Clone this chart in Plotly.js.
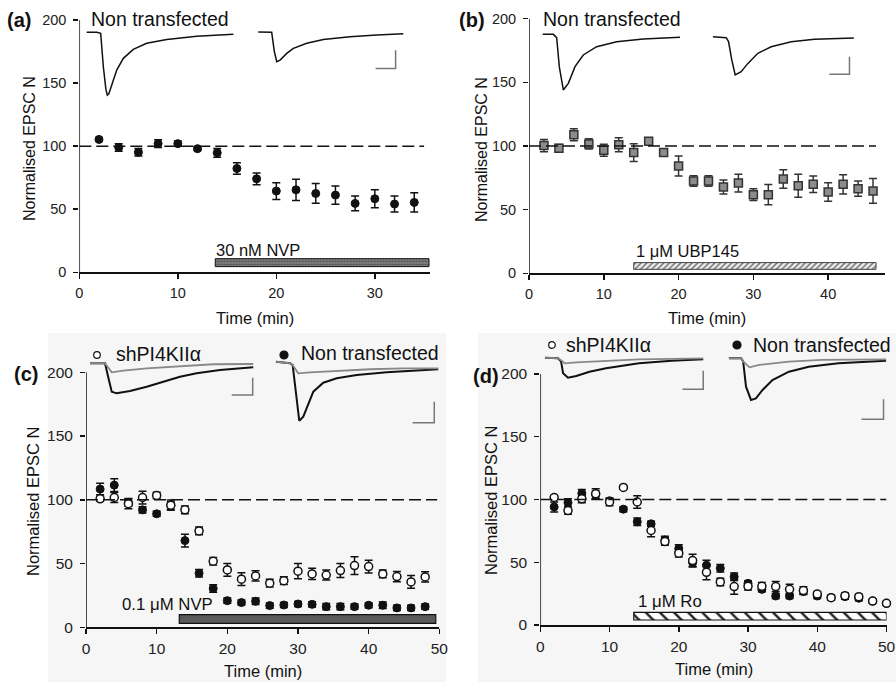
<!DOCTYPE html>
<html><head><meta charset="utf-8">
<script src="https://cdn.plot.ly/plotly-3.0.1.min.js"></script>
<style>html,body{margin:0;padding:0;background:#fff}#chart{width:896px;height:682px}</style>
</head><body><div id="chart"></div>
<script>
// ---------- DATA ----------
const baseline = 100;
// (a) Non transfected, 30 nM NVP
const timeA = [2,4,6,8,10,12,14,16,18,20,22,24,26,28,30,32,34];
const normA = [105.3,99,95.2,102,102,98,94.7,82.3,74.1,64.4,65.4,62.5,61.2,54.6,58.3,54.1,55.4];
const errA  = [1.5,3,3,3,2,1.5,3.5,4.5,4.6,6.6,8.4,7.8,7.3,5.8,7.1,6.3,7.6];
// (b) Non transfected, 1 uM UBP145
const timeB = [2,4,6,8,10,12,14,16,18,20,22,24,26,28,30,32,34,36,38,40,42,44,46];
const normB = [100.3,98.2,108.9,101.6,96.6,101,94.8,103.7,94.8,84.3,72.5,72.5,67.8,70.9,61.8,61.8,74.1,68.8,69.9,63.9,69.9,66.5,64.7];
const errB  = [4.8,3,4.7,4,4.7,5.5,7,2.8,1.5,7.8,4.2,4.2,5.5,7,4.6,8,7.3,9,6.5,7.3,7.6,6,9.7];
// (c) 0.1 uM NVP
const timeC = [2,4,6,8,10,12,14,16,18,20,22,24,26,28,30,32,34,36,38,40,42,44,46,48];
const shC    = [100.8,101.8,96.9,101.8,103.4,95.8,92.1,75.6,51.8,45,37.7,40.3,34.6,36.6,44,41.9,41,44.5,48.4,47.6,41.9,39.8,35.6,39.5];
const shCerr = [2,4,4,5,2.5,4,3,3,3,5,5,4,3,3,6,4.5,4,5.5,7,5,3,4,5,4];
const ntC    = [108.4,111.5,98,92.1,89,95.5,68,42.4,30.4,20.9,19.4,20.4,17,17.5,18.3,18,16.2,16.2,16.2,17.3,17.3,15.2,15.2,16.2];
const ntCerr = [4.5,5,3,2.5,2,3,5,3,3,2,2,2.5,2,2,2,2,2.5,2.5,2,2,2.5,2,2,2];
// (d) 1 uM Ro
const timeD = [2,4,6,8,10,12,14,16,18,20,22,24,26,28,30,32,34,36,38,40,42,44,46,48,50];
const shD    = [101.6,91.2,100.5,104.5,98,109.6,98,75.3,66.5,57.2,51.3,42,34.3,30.6,30.8,30.8,30.6,28.4,27.4,24.7,21.8,23.4,22.6,19.1,17.3];
const shDerr = [1.5,3,3,4,3,1.5,5,5,3,3,5,6,3,6,3,3,4,4,3,2,2,2,2,1.5,1.5];
const ntD    = [94.1,97.5,105,103.7,99,92.3,82.2,80.6,67.8,60.9,49.7,47.6,45.2,38.5,33.2,28.4,23.1,23.1,26.6,23.1,21.8,22.6,21.3,19.1,17.3];
const ntDerr = [4,3,3,3,2,2,3,2,3,3,3,4,3,3,2,2,2,2,2,2,2,2,2,1.5,1.5];
// drug application periods (min)
const drugLabels = ["30 nM NVP","1 \u03bcM UBP145","0.1 \u03bcM NVP","1 \u03bcM Ro"];
const drugStart = [13.8,14.0,13.2,13.5];
const drugEnd   = [35.5,46.4,49.5,50];
// example EPSC traces (drawn in each panel's data units)
const a1x=[0.75,1.77,2.17,2.44,2.7,2.84,3.0,3.29,3.8,4.47,5.48,6.84,8.88,11.92,15.64];
const a1y=[190.2,190.2,189.4,162.9,145,140.5,141.5,148.4,160.3,169.6,176.7,181.5,184.6,187.2,188.8];
const a2x=[18.17,19.53,19.8,20.04,20.38,21.06,21.73,23.09,24.77,27.48,30.19,32.89];
const a2y=[190.4,190.2,175,166.9,168.2,173.5,177.5,181.5,184.6,186.7,188.1,189.1];
const b1x=[1.83,3.25,3.7,4.05,4.59,5.26,6.15,7.26,9.05,11.72,15.28,20.19];
const b1y=[187.7,187.7,185.1,162.3,144,149.2,162.3,171.5,178,181.9,184,185.4];
const b2x=[24.59,26.37,26.68,27.1,27.57,28.37,29.27,30.6,32.38,35.06,38.17,43.43];
const b2y=[185.9,185.1,182,168,155.8,158.4,164.9,172.8,178,181.9,183.8,184.8];
const c1gx=[0.57,2.69,3.64,5.28,8.59,13.3,18.01,23.67];
const c1gy=[207.1,207.1,200,201.3,203.1,204.9,206.3,206.5];
const c1bx=[0.57,2.69,3.2,3.64,4.34,6.23,8.59,10.94,13.3,15.66,18.96,23.67];
const c1by=[207.1,207.1,195,184.8,183.5,185.3,188.7,192.6,196.5,199.2,201.8,203.9];
const c2gx=[26.88,28.87,29.25,30.04,31.7,35.48,40.19,44.9,49.85];
const c2gy=[208.3,207.1,205.7,199.2,200,201.3,202.4,203.1,203.1];
const c2bx=[26.88,28.87,29.25,29.7,30.18,30.75,31.46,32.17,33.58,35.48,38.31,42.55,49.85];
const c2by=[208.3,207.1,205.7,185,162,165.2,175.7,184.8,191.8,195.3,197.9,200,202.4];
const d1gx=[0.67,2.57,3.0,3.53,5.2,9.49,14.24,23.53];
const d1gy=[213,212.5,211,208.5,209.3,210.6,211.7,212.5];
const d1bx=[0.67,2.57,3.0,3.29,4.0,5.2,7.1,9.49,14.24,19.0,23.53];
const d1by=[213,212.5,210,200.6,197,198.4,201.8,204.5,208.5,210.6,211.7];
const d2gx=[27.24,29.0,29.3,30.2,31.63,35.91,40.67,49.96];
const d2gy=[212.5,212.5,210,205.3,207.2,209.8,211.2,211.7];
const d2bx=[27.24,29.0,29.3,29.71,30.43,31.14,32.1,33.53,35.91,38.77,43.06,49.96];
const d2by=[212.5,212.5,210,189.9,179.3,180.6,187.3,195.2,201.8,205.8,208.5,210.6];
// scale bars
const sbAx=[32.11,32.11,30.08], sbAy=[176,161.5,161.5];
const sbBx=[42.85,42.85,40.18], sbBy=[170.2,156.3,156.3];
const sbC1x=[23.59,23.59,20.62], sbC1y=[195.8,182.2,182.2];
const sbC2x=[49.29,49.29,46.23], sbC2y=[176.9,160.5,160.5];
const sbD1x=[23.53,23.53,20.53], sbD1y=[202.6,187.8,187.8];
const sbD2x=[49.57,49.57,46.39], sbD2y=[179.8,163.9,163.9];
const yTicks=[0,50,100,150,200];

// ---------- LAYOUT HELPERS ----------
const W=896,H=682;
const FONT='Liberation Sans, Arial, sans-serif';
const px=x=>x/W, py=y=>1-y/H;
function xax(d0,d1,rmax,tv,anchor,fs){return {domain:[px(d0),px(d1)],range:[0,rmax],anchor:anchor,tickvals:tv,ticks:'outside',ticklen:5,tickwidth:1.5,tickcolor:'#111',showline:true,linewidth:1.5,linecolor:'#111',showgrid:false,zeroline:false,tickfont:{family:FONT,size:fs,color:'#222'},ticklabelstandoff:2,ticklabeloverflow:'allow'};}
function yax(p0,p1,rmax,anchor,fs){return {domain:[py(p0),py(p1)],range:[0,rmax],anchor:anchor,tickvals:yTicks,ticks:'outside',ticklen:5,tickwidth:1.5,tickcolor:'#111',showline:false,showgrid:false,zeroline:false,tickfont:{family:FONT,size:fs,color:'#222'},ticklabelstandoff:4};}

const traces=[];
function line(x,y,xa,ya,color,w){traces.push({x:x,y:y,xaxis:xa,yaxis:ya,mode:'lines',line:{color:color,width:w},hoverinfo:'skip',showlegend:false});}
function pts(x,y,e,xa,ya,marker,ecol){traces.push({x:x,y:y,xaxis:xa,yaxis:ya,mode:'markers',marker:marker,error_y:{type:'data',array:e,visible:true,color:ecol,thickness:1.5,width:4},showlegend:false,cliponaxis:false});}
function drug(i,xa,ya,yc,wd,marker){traces.push({type:'bar',orientation:'h',y:[yc],x:[drugEnd[i]-drugStart[i]],base:[drugStart[i]],width:[wd],xaxis:xa,yaxis:ya,marker:marker,showlegend:false,hoverinfo:'skip'});}

// drug bars
drug(0,'x','y',7.65,6.3,{color:'#777',line:{color:'#111',width:1},pattern:{shape:'.',fgcolor:'#4a4a4a',bgcolor:'#858585',size:3,solidity:0.4}});
drug(1,'x2','y2',5.75,5.3,{color:'#fff',line:{color:'#444',width:1},pattern:{shape:'/',fgcolor:'#666',bgcolor:'#eee',size:4,solidity:0.35}});
drug(2,'x3','y3',6.55,6.9,{color:'#5a5a5a',line:{color:'#111',width:1.2}});
drug(3,'x4','y4',7.05,6.1,{color:'#fff',line:{color:'#111',width:1.2},pattern:{shape:'\\',fgcolor:'#222',bgcolor:'#fff',size:10,solidity:0.25}});

// example traces
line(a1x,a1y,'x','y','#111',1.5); line(a2x,a2y,'x','y','#111',1.5);
line(b1x,b1y,'x2','y2','#111',1.5); line(b2x,b2y,'x2','y2','#111',1.5);
line(c1bx,c1by,'x3','y3','#111',2); line(c1gx,c1gy,'x3','y3','#888',1.8);
line(c2bx,c2by,'x3','y3','#111',2); line(c2gx,c2gy,'x3','y3','#888',1.8);
line(d1bx,d1by,'x4','y4','#111',2); line(d1gx,d1gy,'x4','y4','#888',1.8);
line(d2bx,d2by,'x4','y4','#111',2); line(d2gx,d2gy,'x4','y4','#888',1.8);
line(sbAx,sbAy,'x','y','#777',1.5); line(sbBx,sbBy,'x2','y2','#777',1.5);
line(sbC1x,sbC1y,'x3','y3','#777',1.5); line(sbC2x,sbC2y,'x3','y3','#777',1.5);
line(sbD1x,sbD1y,'x4','y4','#777',1.5); line(sbD2x,sbD2y,'x4','y4','#777',1.5);

// data points
const filled={symbol:'circle',size:8,color:'#111',line:{color:'#111',width:1}};
const open={symbol:'circle',size:8,color:'#fff',line:{color:'#111',width:1.5}};
pts(timeA,normA,errA,'x','y',filled,'#111');
pts(timeB,normB,errB,'x2','y2',{symbol:'square',size:8,color:'#8c8c8c',line:{color:'#333',width:1.5}},'#333');
pts(timeC,ntC,ntCerr,'x3','y3',filled,'#111');
pts(timeC,shC,shCerr,'x3','y3',open,'#111');
pts(timeD,ntD,ntDerr,'x4','y4',filled,'#111');
pts(timeD,shD,shDerr,'x4','y4',open,'#111');

// shapes
const shapes=[];
// light gray panel backgrounds for c,d
shapes.push({type:'rect',xref:'paper',yref:'paper',x0:px(48),x1:px(446),y0:py(682),y1:py(333),fillcolor:'#f6f6f6',line:{width:0},layer:'below'});
shapes.push({type:'rect',xref:'paper',yref:'paper',x0:px(478),x1:px(896),y0:py(682),y1:py(333),fillcolor:'#f6f6f6',line:{width:0},layer:'below'});
[['x','y',35.0],['x2','y2',46.4],['x3','y3',49.7],['x4','y4',50]].forEach(function(s){
  shapes.push({type:'line',xref:s[0],yref:s[1],x0:0,x1:s[2],y0:baseline,y1:baseline,line:{color:'#111',width:1.5,dash:'12px,5px'}});
  shapes.push({type:'line',xref:s[0],yref:s[1],x0:0,x1:0,y0:0,y1:200,line:{color:'#111',width:1.5}});
});
function circ(cx,cy,r,fill){shapes.push({type:'circle',xref:'paper',yref:'paper',xsizemode:'pixel',ysizemode:'pixel',xanchor:px(cx),yanchor:py(cy),x0:-r,x1:r,y0:-r,y1:r,fillcolor:fill,line:{color:'#111',width:1.2}});}
circ(97,355,3.3,'#fff'); circ(284,355,4,'#111');
circ(552,345,3.3,'#fff'); circ(737,345,4,'#111');

// annotations
const ann=[];
function txt(t,x,y,size,opts){ann.push(Object.assign({text:t,xref:'paper',yref:'paper',x:px(x),y:py(y),xanchor:'left',yanchor:'middle',showarrow:false,font:{family:FONT,size:size,color:'#111'}},opts||{}));}
txt('<b>(a)</b>',5,20,20); txt('<b>(b)</b>',457,20,20);
txt('<b>(c)</b>',12,374,20); txt('<b>(d)</b>',471,376,20);
txt('Non transfected',89,19,19.5); txt('Non transfected',541,19,19.5);
txt('shPI4KII\u03b1',114,354,19.5); txt('Non transfected',299,353,19.5);
txt('shPI4KII\u03b1',564,345,19.5); txt('Non transfected',751,345,19.5);
txt(drugLabels[0],214,250,16.5); txt(drugLabels[1],634,251,16.5);
txt(drugLabels[2],120,604,16.8); txt(drugLabels[3],636,601,16.8);
[[29,149,16],[481,149,16],[33,502,16.5],[491,501,16.5]].forEach(function(a){txt('Normalised EPSC N',a[0],a[1],a[2],{textangle:-90,xanchor:'center'});});
[[255,318,16.5],[707,318,16.5],[263,671,16.5],[714,669,16.5]].forEach(function(a){txt('Time (min)',a[0],a[1],a[2],{xanchor:'center'});});

const layout={width:W,height:H,margin:{l:0,r:0,t:0,b:0},paper_bgcolor:'#fff',plot_bgcolor:'rgba(0,0,0,0)',showlegend:false,bargap:0,
  xaxis:xax(79.3,430,35.6,[0,10,20,30],'y',14.5), yaxis:yax(272.3,20,200,'x',14.5),
  xaxis2:xax(529,885,47.6,[0,10,20,30,40],'y2',14.5), yaxis2:yax(273.3,18.7,200,'x2',14.5),
  xaxis3:xax(86,439.3,50,[0,10,20,30,40,50],'y3',15.5), yaxis3:yax(627.3,351.9,216,'x3',15.5),
  xaxis4:xax(540.3,886.5,50,[0,10,20,30,40,50],'y4',15.5), yaxis4:yax(625,351.4,218,'x4',15.5),
  shapes:shapes, annotations:ann};
Plotly.newPlot('chart',traces,layout,{staticPlot:true,displayModeBar:false});
</script></body></html>
